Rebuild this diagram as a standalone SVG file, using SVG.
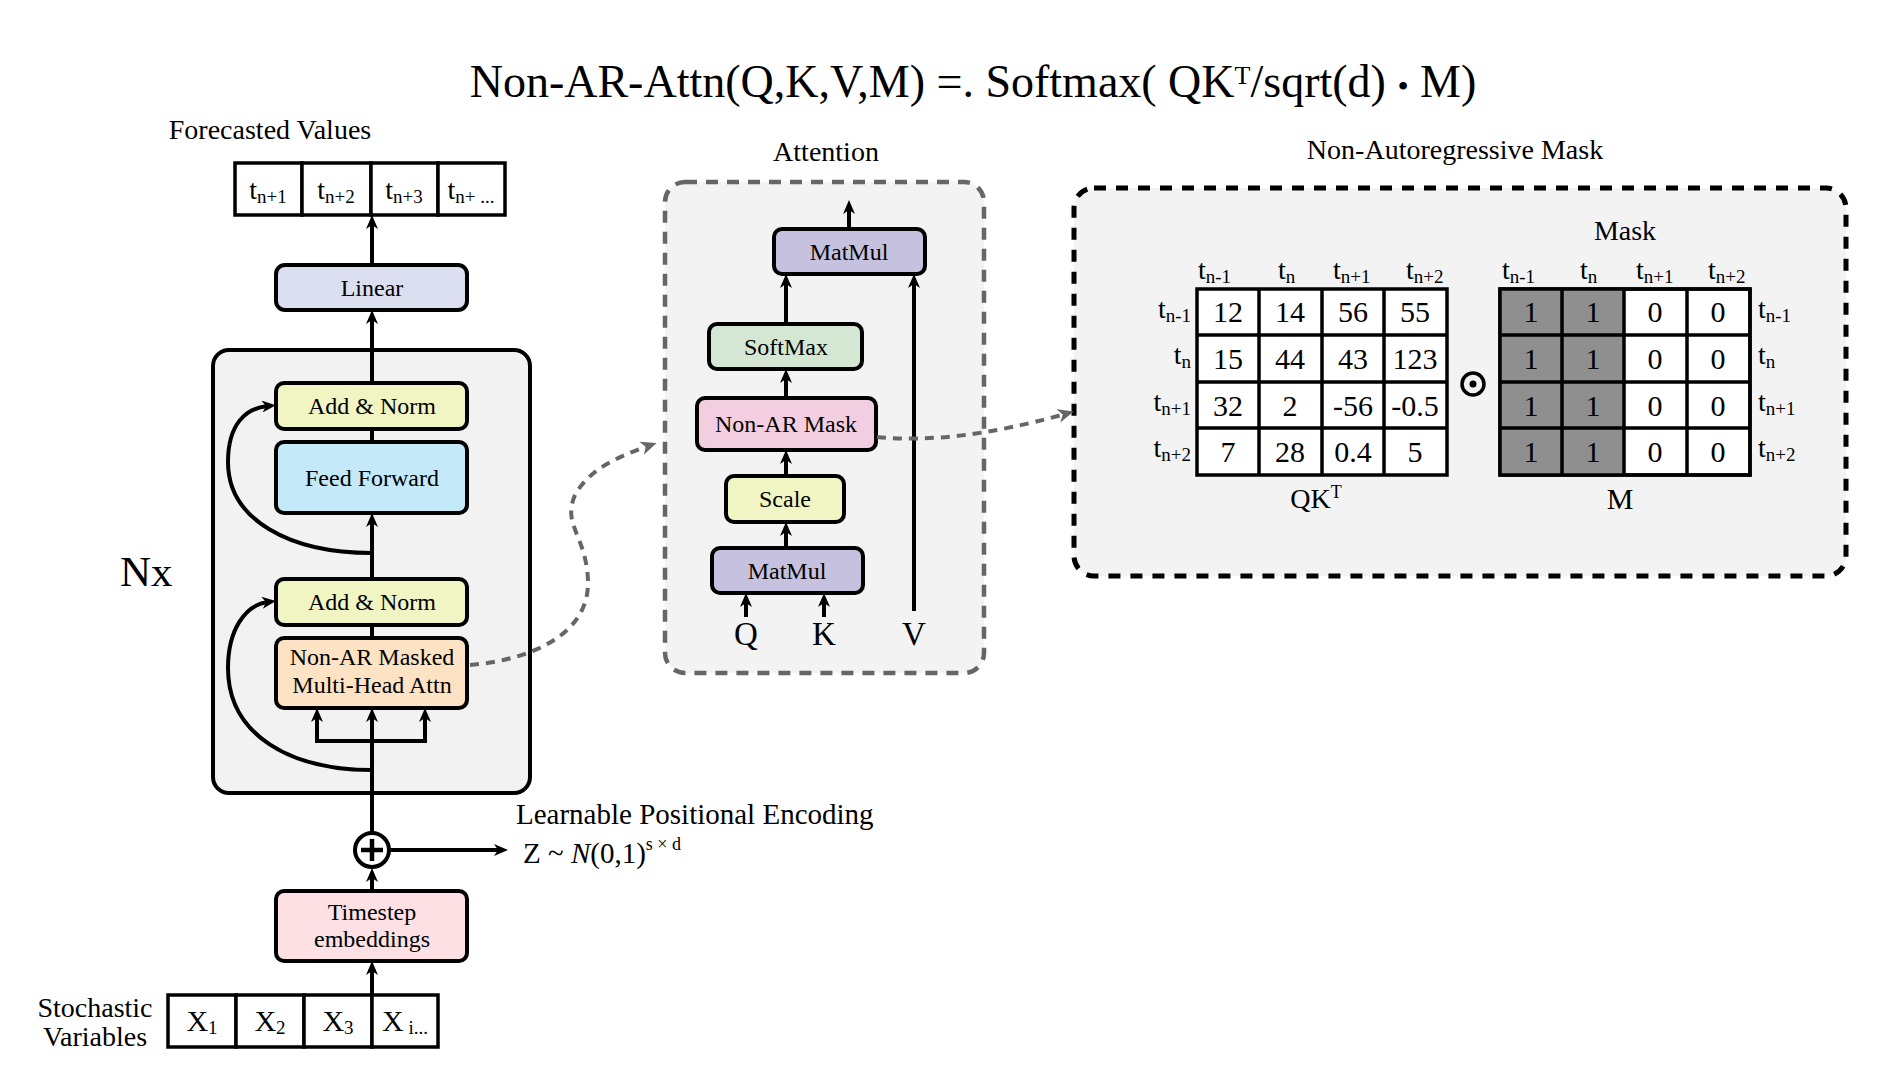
<svg xmlns="http://www.w3.org/2000/svg" width="1898" height="1082" viewBox="0 0 1898 1082">
<defs>
<style>
text{font-family:"Liberation Serif","Times New Roman",serif;fill:#000}
.h{font-size:28px}
.b{font-size:24px;text-anchor:middle}
.box{stroke:#000;stroke-width:4}
.ln{fill:none;stroke:#000;stroke-width:4}
.dash{fill:none;stroke:#666;stroke-width:4;stroke-dasharray:9 7}
.cell{fill:#fff;stroke:#000;stroke-width:3.5}
.num{font-size:30px;text-anchor:middle}
.lab{font-size:28px}
.sub{font-size:19px}
</style>
<marker id="ah" viewBox="0 0 14 12" refX="6" refY="6" markerWidth="14" markerHeight="12" orient="auto" markerUnits="userSpaceOnUse"><path d="M0,0 L14,6 L0,12 L4,6 z" fill="#000"/></marker>
<marker id="ag" viewBox="0 0 14 12" refX="6" refY="6" markerWidth="16" markerHeight="14" orient="auto" markerUnits="userSpaceOnUse"><path d="M0,0 L14,6 L0,12 L4,6 z" fill="#666"/></marker>
</defs>
<rect width="1898" height="1082" fill="#fff"/>

<text x="973" y="97" font-size="46" text-anchor="middle">Non-AR-Attn(Q,K,V,M) =. Softmax( QK<tspan font-size="26" dy="-13">T</tspan><tspan dy="13">/sqrt(d) </tspan><tspan font-size="32">•</tspan> M)</text>

<g id="forecasted-values">
<text class="h" x="270" y="139" text-anchor="middle">Forecasted Values</text>
<rect class="cell" x="235" y="163" width="67" height="52"/>
<rect class="cell" x="302" y="163" width="69" height="52"/>
<rect class="cell" x="371" y="163" width="67" height="52"/>
<rect class="cell" x="438" y="163" width="67" height="52"/>
<text class="lab" x="268" y="199" text-anchor="middle">t<tspan class="sub" dy="4">n+1</tspan></text>
<text class="lab" x="336" y="199" text-anchor="middle">t<tspan class="sub" dy="4">n+2</tspan></text>
<text class="lab" x="404" y="199" text-anchor="middle">t<tspan class="sub" dy="4">n+3</tspan></text>
<text class="lab" x="471" y="199" text-anchor="middle">t<tspan class="sub" dy="4">n+ ...</tspan></text>
</g>

<g id="linear"><rect class="box" x="276" y="265" width="191" height="45" rx="9" fill="#dbdff0"/><text class="b" x="372" y="296">Linear</text></g>

<g id="encoder-block">
<rect class="box" x="213" y="350" width="317" height="443" rx="16" fill="#f2f2f2"/>
<text x="120" y="586" font-size="43">Nx</text>
</g>

<g id="add-norm-1"><rect class="box" x="276" y="383" width="191" height="46" rx="8" fill="#f1f5c4"/><text class="b" x="372" y="414">Add &amp; Norm</text></g>
<g id="feed-forward"><rect class="box" x="276" y="442" width="191" height="71" rx="8" fill="#c4e9f9"/><text class="b" x="372" y="486">Feed Forward</text></g>
<g id="add-norm-2"><rect class="box" x="276" y="579" width="191" height="46" rx="8" fill="#f1f5c4"/><text class="b" x="372" y="610">Add &amp; Norm</text></g>
<g id="masked-attn"><rect class="box" x="276" y="638" width="191" height="70" rx="8" fill="#fde3c3"/><text class="b" x="372" y="665">Non-AR Masked</text><text class="b" x="372" y="693">Multi-Head Attn</text></g>

<g id="timestep-embeddings"><rect class="box" x="276" y="891" width="191" height="70" rx="8" fill="#fce0e4"/><text class="b" x="372" y="920">Timestep</text><text class="b" x="372" y="947">embeddings</text></g>

<g id="stochastic-variables">
<text class="h" x="95" y="1017" text-anchor="middle">Stochastic</text>
<text class="h" x="95" y="1046" text-anchor="middle">Variables</text>
<rect class="cell" x="168" y="995" width="68" height="52"/>
<rect class="cell" x="236" y="995" width="68" height="52"/>
<rect class="cell" x="304" y="995" width="68" height="52"/>
<rect class="cell" x="372" y="995" width="66" height="52"/>
<text x="202" y="1031" font-size="30" text-anchor="middle">X<tspan class="sub" dy="3">1</tspan></text>
<text x="270" y="1031" font-size="30" text-anchor="middle">X<tspan class="sub" dy="3">2</tspan></text>
<text x="338" y="1031" font-size="30" text-anchor="middle">X<tspan class="sub" dy="3">3</tspan></text>
<text x="405" y="1031" font-size="30" text-anchor="middle">X<tspan class="sub" dy="3"> i...</tspan></text>
</g>

<g id="positional-encoding">
<circle cx="372" cy="850" r="17" fill="#fff" stroke="#000" stroke-width="4"/>
<path d="M361,850 H383 M372,839 V861" stroke="#000" stroke-width="4.5"/>
<text x="516" y="824" font-size="29">Learnable Positional Encoding</text>
<text x="523" y="863" font-size="29">Z ~ <tspan font-style="italic">N</tspan>(0,1)<tspan font-size="18" dy="-13">s × d</tspan></text>
</g>

<g id="attention">
<text class="h" x="826" y="161" text-anchor="middle">Attention</text>
<rect x="665" y="182" width="319" height="491" rx="20" fill="#f3f3f3" stroke="#666" stroke-width="4.5" stroke-dasharray="12 9"/>
</g>
<g id="matmul-top"><rect class="box" x="774" y="229" width="151" height="45" rx="8" fill="#c6c1de"/><text class="b" x="849" y="260">MatMul</text></g>
<g id="softmax"><rect class="box" x="709" y="324" width="153" height="45" rx="8" fill="#d4e7d3"/><text class="b" x="786" y="355">SoftMax</text></g>
<g id="non-ar-mask"><rect class="box" x="697" y="398" width="179" height="52" rx="8" fill="#f3cee0"/><text class="b" x="786" y="432">Non-AR Mask</text></g>
<g id="scale"><rect class="box" x="726" y="476" width="118" height="46" rx="8" fill="#f1f5c4"/><text class="b" x="785" y="507">Scale</text></g>
<g id="matmul-bottom"><rect class="box" x="712" y="548" width="151" height="45" rx="8" fill="#c6c1de"/><text class="b" x="787" y="579">MatMul</text></g>
<g id="qkv-labels">
<text x="746" y="645" font-size="33" text-anchor="middle">Q</text>
<text x="824" y="645" font-size="33" text-anchor="middle">K</text>
<text x="914" y="645" font-size="33" text-anchor="middle">V</text>
</g>

<g id="non-ar-mask-detail">
<text class="h" x="1455" y="159" text-anchor="middle">Non-Autoregressive Mask</text>
<rect x="1074" y="188" width="772" height="388" rx="20" fill="#f3f3f3" stroke="#000" stroke-width="5" stroke-dasharray="12 10"/>
<text class="h" x="1625" y="240" text-anchor="middle">Mask</text>
<text class="lab" x="1198" y="279">t<tspan class="sub" dy="4">n-1</tspan></text>
<text class="lab" x="1278" y="279">t<tspan class="sub" dy="4">n</tspan></text>
<text class="lab" x="1333" y="279">t<tspan class="sub" dy="4">n+1</tspan></text>
<text class="lab" x="1406" y="279">t<tspan class="sub" dy="4">n+2</tspan></text>
<text class="lab" x="1502" y="279">t<tspan class="sub" dy="4">n-1</tspan></text>
<text class="lab" x="1580" y="279">t<tspan class="sub" dy="4">n</tspan></text>
<text class="lab" x="1636" y="279">t<tspan class="sub" dy="4">n+1</tspan></text>
<text class="lab" x="1708" y="279">t<tspan class="sub" dy="4">n+2</tspan></text>
<text class="lab" x="1191" y="318" text-anchor="end">t<tspan class="sub" dy="4">n-1</tspan></text>
<text class="lab" x="1191" y="364" text-anchor="end">t<tspan class="sub" dy="4">n</tspan></text>
<text class="lab" x="1191" y="411" text-anchor="end">t<tspan class="sub" dy="4">n+1</tspan></text>
<text class="lab" x="1191" y="457" text-anchor="end">t<tspan class="sub" dy="4">n+2</tspan></text>
<text class="lab" x="1758" y="318">t<tspan class="sub" dy="4">n-1</tspan></text>
<text class="lab" x="1758" y="364">t<tspan class="sub" dy="4">n</tspan></text>
<text class="lab" x="1758" y="411">t<tspan class="sub" dy="4">n+1</tspan></text>
<text class="lab" x="1758" y="457">t<tspan class="sub" dy="4">n+2</tspan></text>
<g>
<rect class="cell" x="1197" y="289" width="250" height="186"/>
<path d="M1259,289 V475 M1322,289 V475 M1384,289 V475 M1197,335 H1447 M1197,382 H1447 M1197,428 H1447" stroke="#000" stroke-width="3.5"/>
<text class="num" x="1228" y="322">12</text><text class="num" x="1290" y="322">14</text><text class="num" x="1353" y="322">56</text><text class="num" x="1415" y="322">55</text>
<text class="num" x="1228" y="369">15</text><text class="num" x="1290" y="369">44</text><text class="num" x="1353" y="369">43</text><text class="num" x="1415" y="369">123</text>
<text class="num" x="1228" y="416">32</text><text class="num" x="1290" y="416">2</text><text class="num" x="1353" y="416">-56</text><text class="num" x="1415" y="416">-0.5</text>
<text class="num" x="1228" y="462">7</text><text class="num" x="1290" y="462">28</text><text class="num" x="1353" y="462">0.4</text><text class="num" x="1415" y="462">5</text>
</g>
<text class="h" x="1316" y="508" text-anchor="middle">QK<tspan font-size="18" dy="-10">T</tspan></text>
<circle cx="1473" cy="384" r="11" fill="none" stroke="#000" stroke-width="3.5"/>
<circle cx="1473" cy="384" r="3.5" fill="#000"/>
<g>
<rect class="cell" x="1500" y="289" width="250" height="186"/>
<rect x="1500" y="289" width="124" height="186" fill="#8f8f8f"/>
<rect x="1500" y="289" width="250" height="186" fill="none" stroke="#000" stroke-width="3.5"/>
<path d="M1562,289 V475 M1624,289 V475 M1687,289 V475 M1500,335 H1750 M1500,382 H1750 M1500,428 H1750" stroke="#000" stroke-width="3.5"/>
<text class="num" x="1531" y="322">1</text><text class="num" x="1593" y="322">1</text><text class="num" x="1655" y="322">0</text><text class="num" x="1718" y="322">0</text>
<text class="num" x="1531" y="369">1</text><text class="num" x="1593" y="369">1</text><text class="num" x="1655" y="369">0</text><text class="num" x="1718" y="369">0</text>
<text class="num" x="1531" y="416">1</text><text class="num" x="1593" y="416">1</text><text class="num" x="1655" y="416">0</text><text class="num" x="1718" y="416">0</text>
<text class="num" x="1531" y="462">1</text><text class="num" x="1593" y="462">1</text><text class="num" x="1655" y="462">0</text><text class="num" x="1718" y="462">0</text>
</g>
<text x="1620" y="509" font-size="30" text-anchor="middle">M</text>
</g>

<g id="connectors">
<path class="ln" d="M372,265 V223" marker-end="url(#ah)"/>
<path class="ln" d="M372,383 V318" marker-end="url(#ah)"/>
<path class="ln" d="M372,442 V429"/>
<path class="ln" d="M372,579 V521" marker-end="url(#ah)"/>
<path class="ln" d="M372,638 V625"/>
<path class="ln" d="M372,833 V716" marker-end="url(#ah)"/>
<path class="ln" d="M317,741 H427"/>
<path class="ln" d="M317,743 V716" marker-end="url(#ah)"/>
<path class="ln" d="M425,743 V716" marker-end="url(#ah)"/>
<path class="ln" d="M372,553 C290,553 228,520 228,462 C228,425 245,408 268,406" marker-end="url(#ah)"/>
<path class="ln" d="M372,770 C290,770 228,735 228,668 C228,630 245,605 268,602" marker-end="url(#ah)"/>
<path class="ln" d="M372,891 V876" marker-end="url(#ah)"/>
<path class="ln" d="M372,995 V969" marker-end="url(#ah)"/>
<path class="ln" d="M389,850 H500" marker-end="url(#ah)"/>
<path class="ln" d="M849,229 V208" marker-end="url(#ah)"/>
<path class="ln" d="M786,324 V282" marker-end="url(#ah)"/>
<path class="ln" d="M786,398 V377" marker-end="url(#ah)"/>
<path class="ln" d="M786,476 V458" marker-end="url(#ah)"/>
<path class="ln" d="M786,548 V530" marker-end="url(#ah)"/>
<path class="ln" d="M746,617 V601" marker-end="url(#ah)"/>
<path class="ln" d="M824,617 V601" marker-end="url(#ah)"/>
<path class="ln" d="M914,611 V282" marker-end="url(#ah)"/>
<path class="dash" d="M470,665 C530,660 590,635 588,580 C586,535 562,525 575,495 C590,468 620,456 648,446" marker-end="url(#ag)"/>
<path class="dash" d="M877,437 C930,442 990,435 1065,414" marker-end="url(#ag)"/>
</g>
</svg>
